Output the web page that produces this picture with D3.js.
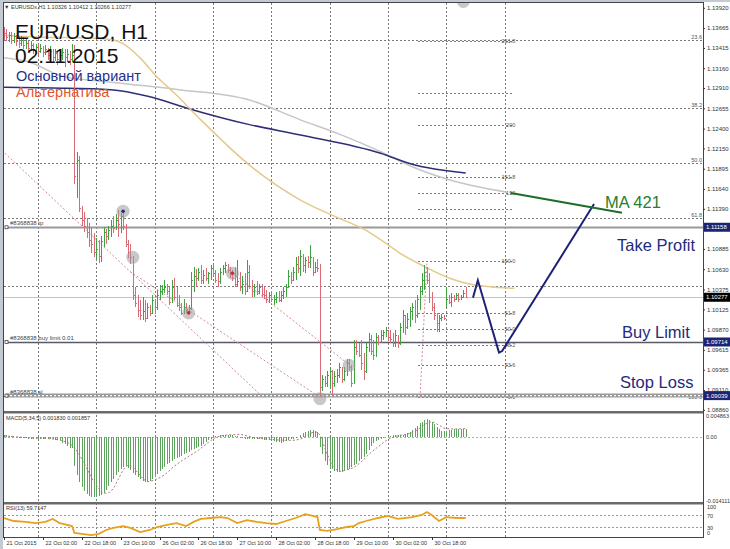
<!DOCTYPE html>
<html><head><meta charset="utf-8">
<script src="https://cdn.jsdelivr.net/npm/d3@7"></script>
<style>html,body{margin:0;padding:0;background:#fff;overflow:hidden}svg{display:block}</style>
</head><body>
<svg id="c" width="730" height="549"></svg>
<script>
// ---------------- DATA (prices in 1e-4 units, e.g. 11360 = 1.1360) ----------------
const barOpen = [
11364,11360,11355,11358,11352,11356,11350,11348,11352,11345,
11348,11342,11345,11340,11343,11338,11342,11336,11340,11333,
11338,11330,11335,11328,11332,11336,11330,11334,11328,11332,
11180,11200,11140,11125,11118,11110,11100,11095,11085,11088,
11080,11098,11110,11105,11112,11118,11115,11125,11120,11130,
11118,11095,11085,11078,11030,11020,11012,11005,11010,11002,
11015,11008,11024,11015,11030,11035,11038,11040,11035,11022,
11040,11028,11018,11015,11008,11015,11012,11014,11050,11055,
11052,11060,11050,11056,11052,11058,11064,11058,11050,11048,
11060,11065,11068,11062,11058,11052,11045,11048,11040,11045,
11035,11060,11042,11035,11040,11036,11040,11032,11030,11026,
11030,11025,11026,11028,11024,11030,11035,11040,11055,11050,
11060,11070,11065,11080,11068,11075,11072,11078,11060,11066,
11064,10915,10925,10920,10930,10935,10920,10928,10930,10940,
10925,10935,10945,10940,10920,10965,10960,10955,10945,10935,
10965,10975,10960,10955,10978,10972,10980,10984,10986,10978,
10975,10970,10980,10970,10990,11005,10990,11000,11010,11015,
11005,11025,11035,11050,11060,11050,11028,11015,11005,10995,
11002,11003,11020,11025,11022,11028,11026,11030,11026,11028,
11033];
const barHigh = [
11368,11365,11362,11361,11360,11358,11356,11357,11355,11353,
11350,11350,11348,11347,11346,11346,11344,11345,11342,11344,
11340,11340,11338,11338,11342,11340,11340,11338,11346,11345,
11210,11205,11142,11135,11128,11121,11116,11108,11102,11100,
11105,11116,11113,11118,11125,11130,11133,11138,11134,11137,
11120,11100,11095,11080,11040,11030,11024,11028,11024,11020,
11018,11030,11026,11037,11043,11043,11049,11045,11040,11049,
11052,11040,11030,11020,11025,11020,11018,11060,11066,11063,
11065,11068,11062,11064,11060,11068,11070,11062,11058,11064,
11068,11072,11070,11066,11062,11066,11075,11060,11055,11058,
11075,11068,11049,11045,11048,11044,11045,11040,11037,11034,
11036,11030,11034,11035,11036,11040,11045,11062,11060,11066,
11078,11080,11087,11082,11078,11080,11094,11078,11072,11076,
11070,10930,10928,10935,10940,10936,10935,10938,10945,10940,
10940,10950,10950,10942,10974,10974,10970,10974,10958,10970,
10983,10980,10974,10983,10980,10987,10987,10990,10987,10986,
10983,10987,10980,10995,11012,11005,11008,11016,11021,11024,
11031,11040,11058,11068,11066,11058,11034,11021,11008,11005,
11006,11005,11039,11030,11033,11030,11033,11033,11030,11037,
11041];
const barLow = [
11352,11350,11349,11346,11348,11344,11342,11344,11340,11340,
11336,11338,11334,11336,11332,11335,11330,11332,11326,11330,
11322,11325,11320,11322,11326,11318,11324,11320,11324,11170,
11152,11135,11118,11110,11102,11091,11083,11078,11075,11071,
11072,11091,11095,11100,11104,11108,11112,11103,11108,11112,
11091,11077,11070,11024,11015,11003,10999,10999,10997,11000,
11004,11006,11007,11012,11024,11030,11033,11030,11018,11020,
11024,11015,11010,11005,11006,11008,11006,11012,11034,11040,
11048,11045,11044,11048,11044,11050,11055,11046,11040,11044,
11056,11058,11058,11052,11048,11040,11040,11035,11032,11030,
11035,11038,11028,11028,11030,11032,11028,11025,11020,11020,
11022,11018,11020,11022,11022,11025,11028,11040,11045,11048,
11050,11058,11055,11060,11058,11064,11065,11055,11058,11060,
10902,10910,10915,10915,10912,10903,10915,10920,10926,10920,
10922,10928,10935,10915,10918,10955,10952,10936,10924,10932,
10959,10955,10949,10952,10967,10970,10974,10978,10974,10970,
10965,10965,10964,10968,10983,10980,10988,10990,10999,10995,
11002,11012,11030,11037,11045,11020,11010,10999,10984,10984,
10998,10999,11015,11019,11015,11022,11024,11022,11024,11027,
11027];
const barClose = [
11360,11355,11358,11352,11356,11350,11348,11352,11345,11348,
11342,11345,11340,11343,11338,11342,11336,11340,11333,11338,
11330,11335,11328,11332,11336,11330,11334,11328,11332,11180,
11200,11140,11125,11118,11110,11100,11095,11085,11088,11080,
11098,11110,11105,11112,11118,11115,11125,11120,11130,11118,
11095,11085,11078,11030,11020,11012,11005,11010,11002,11015,
11008,11024,11015,11030,11035,11038,11040,11035,11022,11040,
11028,11018,11015,11008,11015,11012,11014,11050,11055,11052,
11060,11050,11056,11052,11058,11064,11058,11050,11048,11060,
11065,11068,11062,11058,11052,11045,11048,11040,11045,11035,
11060,11042,11035,11040,11036,11040,11032,11030,11026,11030,
11025,11026,11028,11024,11030,11035,11040,11055,11050,11060,
11070,11065,11080,11068,11075,11072,11078,11060,11066,11064,
10915,10925,10920,10930,10935,10920,10928,10930,10940,10925,
10935,10945,10940,10920,10965,10960,10955,10945,10935,10965,
10975,10960,10955,10978,10972,10980,10984,10986,10978,10975,
10970,10980,10970,10990,11005,10990,11000,11010,11015,11005,
11025,11035,11050,11060,11050,11028,11015,11005,10995,11002,
11003,11002,11025,11022,11028,11026,11030,11026,11028,11033,
11028];
// MACD(5,34,5) main histogram, 1e-5 units
const macdMain = [
40,30,20,10,0,-10,-20,-25,-30,-35,
-40,-40,-45,-50,-50,-55,-55,-60,-60,-55,
-60,-65,-70,-80,-132,-170,-210,-243,-260,-660,
-850,-1015,-1120,-1213,-1270,-1324,-1340,-1346,-1340,-1330,
-1310,-1250,-1190,-1100,-1010,-940,-860,-780,-720,-670,
-662,-700,-740,-810,-860,-900,-949,-990,-1015,-1010,
-993,-950,-904,-840,-772,-720,-670,-618,-590,-540,
-500,-470,-441,-420,-390,-353,-330,-300,-280,-255,
-230,-200,-160,-120,-80,-40,0,20,25,30,
35,40,40,35,30,20,10,-20,-30,-40,
-40,-50,-55,-60,-55,-60,-60,-65,-70,-80,
-90,-100,-110,-120,-130,-120,-100,-80,-60,-40,
-20,0,40,80,110,130,154,150,130,100,
-221,-380,-551,-620,-684,-730,-772,-785,-794,-790,
-770,-750,-720,-680,-640,-600,-551,-500,-441,-380,
-300,-200,-140,-100,-66,-40,-20,0,20,25,
30,35,40,45,50,60,80,110,154,200,
250,309,340,375,397,370,331,280,220,180,
140,120,130,150,160,170,175,170,178,180,
183];
// MACD signal line read at bar positions [bar, value 1e-5]
const macdSignal = [[0,20],[10,-20],[20,-50],[27,-150],[29,-250],[31,-400],[33,-600],[35,-800],[37,-1000],[39,-1150],[41,-1260],[43,-1250],[45,-1150],[47,-950],[49,-750],[51,-640],[53,-680],[55,-800],[57,-920],[59,-1000],[62,-960],[66,-850],[70,-660],[75,-470],[80,-300],[84,-130],[87,-20],[92,40],[97,50],[103,-20],[110,-60],[118,-80],[122,-50],[125,40],[128,110],[130,40],[132,-250],[135,-600],[138,-770],[141,-740],[144,-680],[147,-560],[150,-400],[154,-220],[158,-60],[162,20],[166,60],[170,150],[174,300],[176,330],[179,260],[182,180],[186,175],[190,186]];
// RSI(13) read at bar positions
const rsiPts = [[0,60],[4,50],[9,47],[13,43],[17,47],[20,57],[23,43],[26,37],[28,33],[29,10],[32,7],[36,3],[39,7],[42,20],[45,27],[49,33],[52,27],[56,13],[60,20],[63,30],[67,37],[71,43],[75,33],[78,47],[81,57],[85,60],[89,63],[92,60],[96,43],[100,53],[104,47],[108,43],[112,40],[116,50],[120,60],[124,73],[127,67],[129,63],[130,20],[133,17],[137,23],[141,30],[144,33],[146,43],[149,50],[154,60],[158,67],[162,57],[168,63],[172,70],[174,80],[176,70],[179,50],[182,63],[186,60],[190,60]];
// moving averages read at bar positions [bar, price]
const maTan = [[0,11357],[15,11355],[35,11354],[44,11352],[49,11347],[56,11329],[63,11305],[70,11285],[81,11251],[101,11194],[122,11150],[138,11127],[149,11112],[156,11098],[163,11083],[172,11068],[184,11051],[192,11044],[204,11040],[210,11039]];
const maGrey = [[0,11329],[10,11324],[24,11306],[45,11298],[72,11289],[101,11276],[122,11251],[138,11233],[155,11211],[168,11192],[185,11174],[207,11160]];
const maNavy = [[0,11292],[20,11291],[44,11289],[60,11280],[75,11266],[101,11245],[122,11232],[155,11209],[168,11195],[190,11184]];
// hand-drawn scenario and MA421 projection
const mainScenario = [[193,11027],[195,11049],[203.7,10958],[205,10960],[242.8,11145]];
const ma421Line = [[208.6,11159],[254.3,11134]];
const trendLines = [[[0.4,11209],[106.2,10903]],[[51.9,11060],[130,10902]],[[94.2,11058],[142.4,10942]],[[171.2,10902],[174,11070]]];
const markers = [[49,11136,"#1f2a80"],[53,11078,null],[76,11008,"#d02a2a"],[94,11058,"#d02a2a"],[130,10900,null],[142,10942,null],[189,11400,null]];
// order levels
const orderLevels = [{name:"tp",price:1.11158,label:"#8368838 tp"},{name:"bl",price:1.09714,label:"#8368838 buy limit 0.01"},{name:"sl",price:1.09039,label:"#8368838 sl"}];
const lastPrice = 1.10277;
// Fibonacci retracement (short) and (long)
const fib1Anchors = [10902, 11073]; const fib1Span = [170.5, 210];
const fib1Levels = [0,23.6,38.2,50,61.8,100,138.2,150,161.8,200,223.6,261.8];
const fib1Labels = ["0.0","23.6","38.2","50.0","61.8","100.0","","150","161.8","200","","261.8"];
const fib2Anchors = [11490, 10903];
const fib2Levels = [23.6,38.2,50,61.8,76.4,100];
const fib2Labels = ["23.6","38.2","50.0","61.8","","100.0"];
// axes
const priceTicks = [1.13920,1.13665,1.13415,1.13160,1.12910,1.12655,1.12400,1.12150,1.11895,1.11640,1.11390,1.10885,1.10630,1.10375,1.10125,1.09870,1.09615,1.09365,1.09110,1.08860];
const priceBoxes = [[1.11158,"#1c2474"],[1.10277,"#000000"],[1.09714,"#1c2474"],[1.09039,"#1c2474"]];
const macdTicks = [[0.004863,"0.004863"],[0,"0.00"],[-0.014111,"-0.014111"]];
const rsiTicks = [100,70,30,0];
const rsiLevels = [70,30];
const timeLabels = [[0,"21 Oct 2015"],[16,"22 Oct 02:00"],[32,"22 Oct 18:00"],[48,"23 Oct 10:00"],[64,"26 Oct 02:00"],[80,"26 Oct 18:00"],[96,"27 Oct 10:00"],[112,"28 Oct 02:00"],[128,"28 Oct 18:00"],[144,"29 Oct 10:00"],[160,"30 Oct 02:00"],[176,"30 Oct 18:00"]];
const gridBars = [14,38,62,86,110,134,158,182,206];
const noteLabels = [["MA 421",247.3,11140,"#2a7d2a"],["Take Profit",252.3,11086,"#1f2a80"],["Buy Limit",254.3,10976,"#1f2a80"],["Stop Loss",253.5,10913,"#1f2a80"]];

// ---------------- DRAWING ----------------
const F = "'Liberation Sans', Arial, sans-serif";
const P = v => v / 1e4;
const svg = d3.select("#c").attr("font-family", F);
const x = d3.scaleLinear().domain([0, 287.65]).range([4, 703]);
const y = d3.scaleLinear().domain([1.08858, 1.13968]).range([410, 4]);
const yM = d3.scaleLinear().domain([-0.014111, 0.004863]).range([500, 415]);
const yR = d3.scaleLinear().domain([0, 100]).range([536, 506]);
const R = v => Math.round(v) + 0.5;

svg.append("rect").attr("width", 730).attr("height", 549).attr("fill", "#fff");
const defs = svg.append("defs");
defs.append("clipPath").attr("id", "cm").append("rect").attr("x", 4).attr("y", 3).attr("width", 699).attr("height", 407);
defs.append("clipPath").attr("id", "cd").append("rect").attr("x", 4).attr("y", 413).attr("width", 699).attr("height", 88);
defs.append("clipPath").attr("id", "cr").append("rect").attr("x", 4).attr("y", 504).attr("width", 699).attr("height", 33);

// vertical grid
svg.append("g").selectAll("line").data(gridBars).join("line")
  .attr("x1", d => R(x(d))).attr("x2", d => R(x(d))).attr("y1", 3).attr("y2", 537)
  .attr("stroke", "#7a7a7a").attr("stroke-dasharray", "2,2").attr("shape-rendering", "crispEdges");

const gm = svg.append("g").attr("clip-path", "url(#cm)");

// long fibonacci levels across chart
const f2 = l => P(fib2Anchors[0] + (fib2Anchors[1] - fib2Anchors[0]) * l / 100);
gm.append("g").selectAll("line").data(fib2Levels).join("line")
  .attr("x1", 4).attr("x2", 703).attr("y1", d => R(y(f2(d)))).attr("y2", d => R(y(f2(d))))
  .attr("stroke", "#7a7a7a").attr("stroke-dasharray", "2,2").attr("shape-rendering", "crispEdges");
gm.append("g").selectAll("text").data(fib2Levels).join("text")
  .attr("x", 702).attr("y", d => y(f2(d)) + (d === 100 ? 3 : -1.5)).attr("text-anchor", "end")
  .attr("font-size", 5.5).attr("fill", "#555").text((d, i) => fib2Labels[i]);

// short fibonacci
const f1 = l => P(fib1Anchors[0] + (fib1Anchors[1] - fib1Anchors[0]) * l / 100);
gm.append("g").selectAll("line").data(fib1Levels).join("line")
  .attr("x1", x(fib1Span[0])).attr("x2", x(fib1Span[1])).attr("y1", d => R(y(f1(d)))).attr("y2", d => R(y(f1(d))))
  .attr("stroke", "#7a7a7a").attr("stroke-dasharray", "2,2").attr("shape-rendering", "crispEdges");
gm.append("g").selectAll("text").data(fib1Levels).join("text")
  .attr("x", x(fib1Span[1]) + 1).attr("y", d => y(f1(d)) + 2).attr("text-anchor", "end")
  .attr("font-size", 5.5).attr("fill", "#555").text((d, i) => fib1Labels[i]);

// current price line
gm.append("line").attr("x1", 4).attr("x2", 703).attr("y1", R(y(lastPrice))).attr("y2", R(y(lastPrice)))
  .attr("stroke", "#c4c4c4").attr("shape-rendering", "crispEdges");

// order lines
orderLevels.forEach(o => {
  const yy = y(o.price);
  if (o.name === "sl") {
    gm.append("line").attr("x1", 6).attr("x2", 703).attr("y1", yy).attr("y2", yy).attr("stroke", "#9a9a9a").attr("stroke-width", 4);
    gm.append("line").attr("x1", 6).attr("x2", 703).attr("y1", yy).attr("y2", yy).attr("stroke", "#fff").attr("stroke-width", 1.2).attr("stroke-dasharray", "2,2");
  } else {
    gm.append("line").attr("x1", 6).attr("x2", 703).attr("y1", R(yy)).attr("y2", R(yy))
      .attr("stroke", o.name === "tp" ? "#999" : "#5a5a6a").attr("stroke-width", o.name === "tp" ? 2 : 1.5);
  }
  gm.append("rect").attr("x", 5).attr("y", yy - 1.5).attr("width", 3).attr("height", 3).attr("fill", "#fff").attr("stroke", "#333").attr("stroke-width", 0.7);
  gm.append("text").attr("x", 10).attr("y", yy - 2).attr("font-size", 6).attr("fill", "#444").text(o.label);
});

// moving averages
const lineP = d3.line().x(d => x(d[0])).y(d => y(P(d[1]))).curve(d3.curveMonotoneX);
gm.append("path").attr("d", lineP(maGrey)).attr("fill", "none").attr("stroke", "#c6c6c6").attr("stroke-width", 1.5);
gm.append("path").attr("d", lineP(maNavy)).attr("fill", "none").attr("stroke", "#2e2e78").attr("stroke-width", 1.5);
gm.append("path").attr("d", lineP(maTan)).attr("fill", "none").attr("stroke", "#e5c98c").attr("stroke-width", 1.5);

// trend lines
gm.append("g").selectAll("path").data(trendLines).join("path")
  .attr("d", d => d3.line().x(p => x(p[0])).y(p => y(P(p[1])))(d))
  .attr("fill", "none").attr("stroke", "#d48a98").attr("stroke-dasharray", "2,2");

// bars
const idx = d3.range(barClose.length);
gm.append("g").attr("shape-rendering", "crispEdges").selectAll("path").data(idx).join("path")
  .attr("d", i => {
    const xi = R(x(i));
    const yo = R(y(P(barOpen[i]))), yc = R(y(P(barClose[i])));
    return `M${xi},${y(P(barHigh[i]))}V${y(P(barLow[i]))}M${xi - 1},${yo}H${xi}M${xi},${yc}H${xi + 1}`;
  })
  .attr("fill", "none").attr("stroke", i => barClose[i] >= barOpen[i] ? "#3ea33e" : "#d96a78").attr("stroke-width", 1);

// markers
const mk = gm.append("g").selectAll("g").data(markers).join("g")
  .attr("transform", d => `translate(${x(d[0])},${y(P(d[1]))})`);
mk.append("circle").attr("r", 6.5).attr("fill", "#9a9a9a").attr("opacity", 0.55);
mk.filter(d => d[2]).append("circle").attr("r", 1.8).attr("fill", d => d[2]);

// scenario path and MA 421 projection
gm.append("path").attr("d", d3.line().x(d => x(d[0])).y(d => y(P(d[1])))(mainScenario))
  .attr("fill", "none").attr("stroke", "#1d2278").attr("stroke-width", 2).attr("stroke-linejoin", "miter");
gm.append("path").attr("d", d3.line().x(d => x(d[0])).y(d => y(P(d[1])))(ma421Line))
  .attr("fill", "none").attr("stroke", "#1e6e26").attr("stroke-width", 2);

gm.append("g").selectAll("text").data(noteLabels).join("text")
  .attr("x", d => x(d[1])).attr("y", d => y(P(d[2]))).attr("font-size", 16.5).attr("fill", d => d[3]).text(d => d[0]);

// titles
const tg = svg.append("g");
tg.append("text").attr("x", 15).attr("y", 38.5).attr("font-size", 21).attr("fill", "#111").text("EUR/USD, H1");
tg.append("text").attr("x", 15).attr("y", 62.5).attr("font-size", 21).attr("fill", "#111").text("02.11.2015");
tg.append("text").attr("x", 16).attr("y", 80.5).attr("font-size", 14.5).attr("fill", "#26308c").text("Основной вариант");
tg.append("text").attr("x", 16).attr("y", 96.5).attr("font-size", 14.5).attr("fill", "#e2572c").text("Альтернатива");
tg.append("text").attr("x", 4).attr("y", 9).attr("font-size", 5.5).attr("fill", "#333").text("▼ EURUSDx,H1  1.10326 1.10412 1.10266 1.10277");

// ---- MACD pane ----
const gd = svg.append("g").attr("clip-path", "url(#cd)");
gd.append("line").attr("x1", 4).attr("x2", 703).attr("y1", R(yM(0))).attr("y2", R(yM(0)))
  .attr("stroke", "#c9b24e").attr("stroke-dasharray", "2,2").attr("shape-rendering", "crispEdges");
gd.append("g").attr("shape-rendering", "crispEdges").selectAll("line").data(idx).join("line")
  .attr("x1", i => R(x(i))).attr("x2", i => R(x(i)))
  .attr("y1", yM(0)).attr("y2", i => yM(macdMain[i] * 1e-5))
  .attr("stroke", "#5da35d");
gd.append("path").attr("d", d3.line().x(d => x(d[0])).y(d => yM(d[1] * 1e-5)).curve(d3.curveMonotoneX)(macdSignal))
  .attr("fill", "none").attr("stroke", "#b07a7a").attr("stroke-dasharray", "2,2");
svg.append("text").attr("x", 6).attr("y", 420).attr("font-size", 5.5).attr("fill", "#333").text("MACD(5,34,5) 0.001830 0.001857");

// ---- RSI pane ----
const gr = svg.append("g").attr("clip-path", "url(#cr)");
gr.append("g").selectAll("line").data(rsiLevels).join("line")
  .attr("x1", 4).attr("x2", 703).attr("y1", d => R(yR(d))).attr("y2", d => R(yR(d)))
  .attr("stroke", "#999").attr("stroke-dasharray", "2,2").attr("shape-rendering", "crispEdges");
gr.append("path").attr("d", d3.line().x(d => x(d[0])).y(d => yR(d[1]))(rsiPts))
  .attr("fill", "none").attr("stroke", "#e6a21f").attr("stroke-width", 1.8);
svg.append("text").attr("x", 6).attr("y", 510).attr("font-size", 5.5).attr("fill", "#333").text("RSI(13) 59.7147");

// ---- frame & separators ----
svg.append("rect").attr("x", 0).attr("y", 0).attr("width", 3).attr("height", 549).attr("fill", "#c3cad4");
svg.append("rect").attr("x", 0).attr("y", 0).attr("width", 730).attr("height", 2).attr("fill", "#c3cad4");
svg.append("rect").attr("x", 3.5).attr("y", 2.5).attr("width", 699.5).attr("height", 534.5).attr("fill", "none").attr("stroke", "#444").attr("stroke-width", 1).attr("shape-rendering", "crispEdges");
[411, 502].forEach(v => svg.append("rect").attr("x", 4).attr("y", v).attr("width", 699).attr("height", 2.5).attr("fill", "#6a6a6a"));

// ---- price axis ----
const ga = svg.append("g").attr("transform", "translate(703,0)")
  .call(d3.axisRight(y).tickValues(priceTicks).tickFormat(d3.format(".5f")).tickSize(2).tickPadding(2));
ga.select(".domain").remove();
ga.selectAll("text").attr("font-size", 6).attr("fill", "#333").attr("font-family", F);
ga.selectAll("line").attr("stroke", "#333");
const pb = svg.append("g").selectAll("g").data(priceBoxes).join("g").attr("transform", d => `translate(704,${y(d[0])})`);
pb.append("rect").attr("x", 0).attr("y", -4.5).attr("width", 26).attr("height", 9).attr("fill", d => d[1]);
pb.append("text").attr("x", 2).attr("y", 2).attr("font-size", 6).attr("fill", "#fff").text(d => d[0].toFixed(5));

// MACD axis
svg.append("g").selectAll("text").data(macdTicks).join("text")
  .attr("x", 706).attr("y", d => yM(d[0]) + 2.5).attr("font-size", 5.5).attr("fill", "#333").text(d => d[1]);
// RSI axis
svg.append("g").selectAll("text").data(rsiTicks).join("text")
  .attr("x", 707).attr("y", d => Math.min(Math.max(yR(d) + 2.5, 509), 535)).attr("font-size", 5.5).attr("fill", "#333").text(d => d);

// time axis
const tx = svg.append("g").selectAll("g").data(timeLabels).join("g").attr("transform", d => `translate(${R(x(d[0]))},537)`);
tx.append("line").attr("y1", 0).attr("y2", 3).attr("stroke", "#333");
tx.append("text").attr("x", 2).attr("y", 8).attr("font-size", 5.5).attr("fill", "#333").text(d => d[1]);
</script>
</body></html>
